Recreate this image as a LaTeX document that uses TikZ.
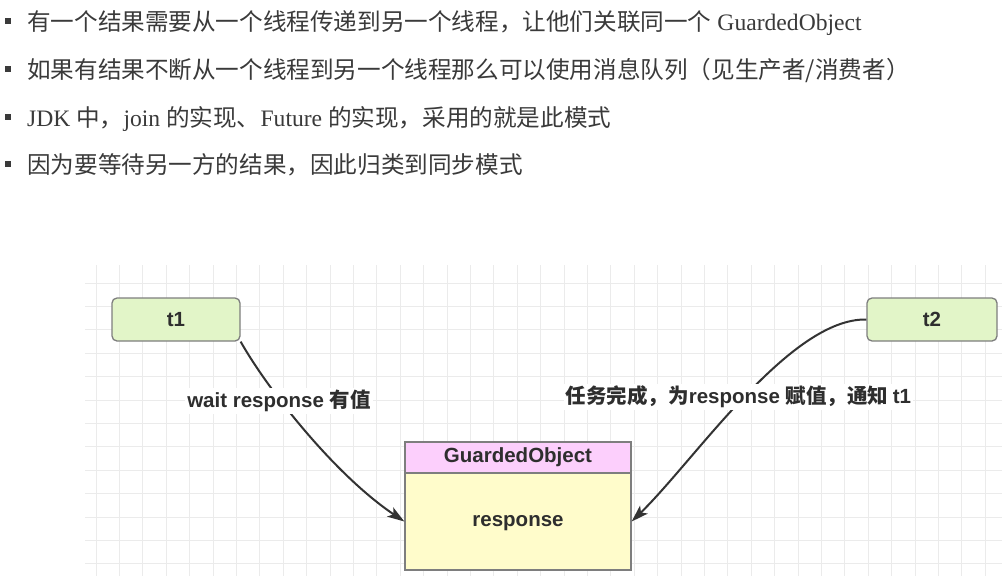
\documentclass[tikz,border=0pt]{standalone}
\usepackage{fontspec}
\setmainfont{Liberation Serif}
\newfontfamily\cjk{Noto Sans CJK SC}
\newfontfamily\lat{Liberation Sans}
\newcommand\LatB[1]{{\lat\bfseries #1}}
\newcommand\CjkB[1]{{\cjk\bfseries #1}}
\definecolor{txt}{HTML}{3A3A3A}
\definecolor{gridc}{HTML}{EBEBEB}
\definecolor{boxborder}{HTML}{7E7E7E}
\definecolor{threadfill}{HTML}{E2F5C8}
\definecolor{headfill}{HTML}{FCCFFC}
\definecolor{bodyfill}{HTML}{FFFCCB}
\definecolor{conncol}{HTML}{333333}
\usetikzlibrary{arrows.meta}
\begin{document}
\begin{tikzpicture}[x=1pt,y=-1pt,
  every node/.style={inner sep=0pt},
  toptext/.style={anchor=base west, text=txt, font=\fontsize{23.6}{28}\selectfont},
  bulletsq/.style={fill=txt, minimum size=6pt, inner sep=0pt},
  dfont/.style={font=\fontsize{20.5}{24}\selectfont, text=black!82},
  thread/.style={dfont, draw=boxborder, fill=threadfill, rounded corners=5pt, line width=1.3pt, minimum width=128pt, minimum height=43pt},
  headbox/.style={dfont, draw=boxborder, fill=headfill, line width=1.3pt, minimum width=226pt, minimum height=31pt},
  bodybox/.style={dfont, draw=boxborder, fill=bodyfill, line width=1.3pt, minimum width=226pt, minimum height=97pt},
  conn/.style={draw=conncol, line width=2pt, -{Stealth[length=17pt,width=11pt,inset=4pt]}},
  lbl/.style={dfont, fill=white, inner sep=2pt},
  gridline/.style={draw=gridc, line width=1pt}]
\useasboundingbox (0,0) rectangle (1002,576);
\fill[white] (0,0) rectangle (1002,576);
% top bullet text
\node[bulletsq] (b1) at (8,21) {};
\node[bulletsq] (b2) at (8,69) {};
\node[bulletsq] (b3) at (8,117) {};
\node[bulletsq] (b4) at (8,164) {};
\node[toptext] (l1) at (27,30) {{\cjk 有一个结果需要从一个线程传递到另一个线程，让他们关联同一个} GuardedObject};
\node[toptext] (l2) at (27,78) {{\cjk 如果有结果不断从一个线程到另一个线程那么可以使用消息队列（见生产者/消费者）}};
\node[toptext] (l3) at (27,126) {JDK {\cjk 中，}join {\cjk 的实现、}Future {\cjk 的实现，采用的就是此模式}};
\node[toptext] (l4) at (27,173) {{\cjk 因为要等待另一方的结果，因此归类到同步模式}};
% grid
\begin{scope}
\clip (85,265) rectangle (1002,576);
\foreach \i in {0,...,12} \draw[gridline] (85,{283+23.4*\i}) -- (1002,{283+23.4*\i});
\foreach \i in {0,...,38} \draw[gridline] ({96+23.4*\i},265) -- ({96+23.4*\i},576);
\end{scope}
% nodes
\node[thread] (t1) at (176,319.5) {\LatB{t1}};
\node[thread, minimum width=130pt] (t2) at (932,319.5) {\LatB{t2}};
\node[bodybox] (body) at (518,521.5) {};
\node[dfont] (bodytext) at (518,523) {\LatB{response}};
\node[headbox] (head) at (518,457.5) {\LatB{GuardedObject}};
% connectors
\draw[conn] (t1.south east) .. controls (268,390) and (335,475) .. (body.west);
\draw[conn] (t2.west) .. controls (790,318) and (695,460) .. (body.east);
\node[lbl] (lab1) at (279,401) {\LatB{wait response }\CjkB{有值}};
\node[lbl] (lab2) at (738.5,397) {\CjkB{任务完成，为}\LatB{response }\CjkB{赋值，通知 }\LatB{t1}};
\end{tikzpicture}
\end{document}
